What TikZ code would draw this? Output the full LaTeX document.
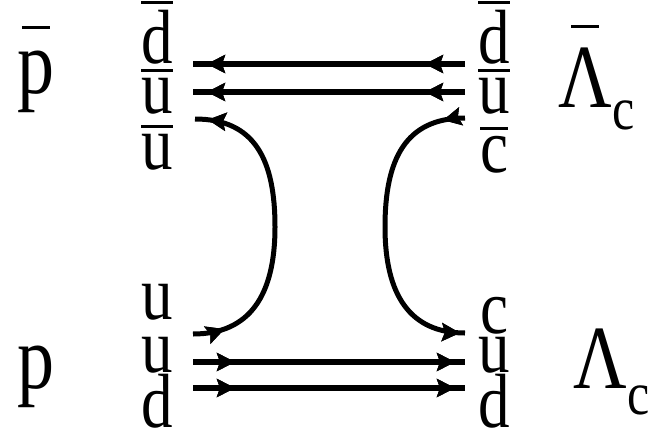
\documentclass[tikz,border=0pt]{standalone}
\usepackage{fontspec}
\setmainfont{Liberation Serif}
\newfontfamily\qfont{Liberation Serif}
\usetikzlibrary{arrows.meta, decorations.markings}

% bar over a quark letter, and over a hadron symbol
\newcommand\qbar[1]{\vbox{\hrule height 1.1pt\kern 2.3pt\hbox{#1}}}
\newcommand\hadbar[2][10pt]{\setbox0\hbox{#2}\vbox{\hbox to\wd0{\hss\vrule width 14pt height 1.25pt\hss}\kern#1\nointerlineskip\box0}}
\newcommand\subc[1][9.4pt]{\raisebox{-#1}{\fontsize{25}{25}\selectfont c}}
\newcommand\tall[1]{\scalebox{1}[1.22]{#1}}

\tikzset{
    quark/.style={inner sep=0pt, anchor=base, font=\qfont\fontsize{31.5}{32}\selectfont},
    hadron/.style={inner sep=0pt, anchor=base west, font=\qfont\fontsize{37}{38}\selectfont},
    qtip/.tip={Stealth[length=9pt, width=9pt, inset=1.5pt]},
    qline/.style={line width=3.3pt},
    qcurve/.style={line width=2.5pt},
    tipat/.style={postaction={decorate},
        decoration={markings, mark=at position #1 with {\arrow{qtip}}}}
}

\begin{document}
\begin{tikzpicture}[x=0.5pt, y=-0.5pt]
    \useasboundingbox (0,0) rectangle (648,434);

    % Hadrons
    \node[hadron] (pbar) at (17,93) {\tall{\hadbar[8.8pt]{p}}};
    \node[hadron] (p) at (17,388) {\tall{p}};
    \node[hadron] (lcbar) at (558,107) {\tall{\hadbar[8pt]{Λ}\subc}};
    \node[hadron] (lc) at (573,388) {\tall{Λ\subc[11pt]}};

    % Quarks, left
    \node[quark] (dbL) at (157,63) {\tall{\qbar{d}}};
    \node[quark] (ubL) at (157,113) {\tall{\qbar{u}}};
    \node[quark] (uaL) at (157,169) {\tall{\qbar{u}}};
    \node[quark] (uqL) at (157,319) {\tall{u}};
    \node[quark] (uL) at (157,372) {\tall{u}};
    \node[quark] (dL) at (157,427) {\tall{d}};

    % Quarks, right
    \node[quark] (dbR) at (494,63) {\tall{\qbar{d}}};
    \node[quark] (ubR) at (494,113) {\tall{\qbar{u}}};
    \node[quark] (caR) at (494,172) {\tall{\qbar{c}}};
    \node[quark] (cqR) at (494,333) {\tall{c}};
    \node[quark] (uR) at (494,372) {\tall{u}};
    \node[quark] (dR) at (494,427) {\tall{d}};

    % Line ends
    \coordinate (dbL-e) at (193,64);
    \coordinate (dbR-e) at (465,64);
    \coordinate (ubL-e) at (193,92);
    \coordinate (ubR-e) at (465,92);
    \coordinate (uaL-e) at (195,119);
    \coordinate (caR-e) at (465,118);
    \coordinate (uqL-e) at (193,334);
    \coordinate (cqR-e) at (465,333);
    \coordinate (uL-e) at (193,362);
    \coordinate (uR-e) at (465,362);
    \coordinate (dL-e) at (193,388);
    \coordinate (dR-e) at (465,388);

    % Spectator lines
    \draw[qline, tipat=20pt, tipat=-7pt] (dbR-e) -- (dbL-e);
    \draw[qline, tipat=20pt, tipat=-7pt] (ubR-e) -- (ubL-e);
    \draw[qline, tipat=21pt, tipat=-5pt] (uL-e) -- (uR-e);
    \draw[qline, tipat=21pt, tipat=-5pt] (dL-e) -- (dR-e);

    % Annihilation and creation
    \draw[qcurve, tipat=16pt, tipat=-6.5pt] (uqL-e)
        .. controls (250,334) and (275,295) .. (275,227)
        .. controls (275,160) and (255,119) .. (uaL-e);
    \draw[qcurve, tipat=11pt, tipat=-2.5pt] (caR-e)
        .. controls (405,118) and (385,160) .. (385,227)
        .. controls (385,295) and (410,333) .. (cqR-e);
\end{tikzpicture}
\end{document}
